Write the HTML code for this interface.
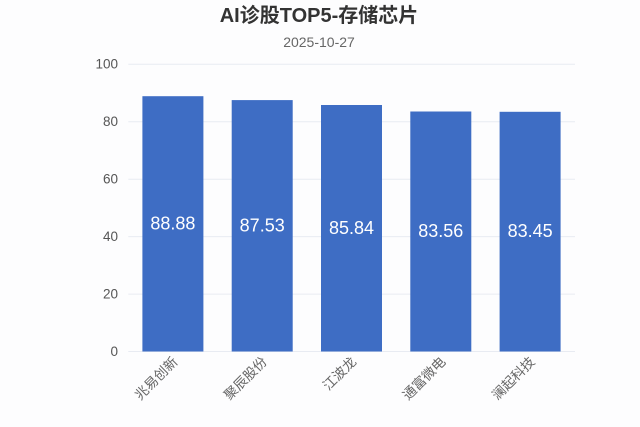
<!DOCTYPE html>
<html><head><meta charset="utf-8"><style>
html,body{margin:0;padding:0;background:#fdfdfe;}
svg{display:block;}
</style></head><body>
<svg width="640" height="427" viewBox="0 0 640 427" xmlns="http://www.w3.org/2000/svg">
<rect width="640" height="427" fill="#fdfdfe"/>
<text x="319" y="22" text-anchor="middle" font-family="Liberation Sans, Noto Sans CJK SC, sans-serif" font-size="20" font-weight="bold" fill="#333">AI诊股TOP5-存储芯片</text>
<text x="319" y="47" text-anchor="middle" font-family="Liberation Sans, Noto Sans CJK SC, sans-serif" font-size="14" fill="#666">2025-10-27</text>
<g stroke="#e8ebf2" stroke-width="1">
<line x1="128.3" y1="64.3" x2="575" y2="64.3"/>
<line x1="128.3" y1="121.7" x2="575" y2="121.7"/>
<line x1="128.3" y1="179.2" x2="575" y2="179.2"/>
<line x1="128.3" y1="236.6" x2="575" y2="236.6"/>
<line x1="128.3" y1="294.1" x2="575" y2="294.1"/>
<line x1="128.3" y1="351.5" x2="575" y2="351.5"/>
</g>
<g font-family="Liberation Sans, sans-serif" font-size="13.5" fill="#555" text-anchor="end" dominant-baseline="middle">
<text x="118" y="65">100</text>
<text x="118" y="122.5">80</text>
<text x="118" y="180">60</text>
<text x="118" y="237.5">40</text>
<text x="118" y="295">20</text>
<text x="118" y="352.5">0</text>
</g>
<g fill="#3e6dc4">
<rect x="142.4" y="96.2" width="61" height="255.3"/>
<rect x="231.7" y="100.1" width="61" height="251.4"/>
<rect x="321.0" y="105.0" width="61" height="246.5"/>
<rect x="410.3" y="111.5" width="61" height="240"/>
<rect x="499.6" y="111.8" width="61" height="239.7"/>
</g>
<g font-family="Liberation Sans, sans-serif" font-size="18" fill="#fff" text-anchor="middle" dominant-baseline="middle">
<text x="172.9" y="224.5">88.88</text>
<text x="262.2" y="226.5">87.53</text>
<text x="351.5" y="229">85.84</text>
<text x="440.8" y="232">83.56</text>
<text x="530.1" y="232">83.45</text>
</g>
<g font-family="Liberation Sans, Noto Sans CJK SC, sans-serif" font-size="13.5" fill="#666" text-anchor="end" dominant-baseline="middle">
<text x="176" y="360" transform="rotate(-45 176 360)">兆易创新</text>
<text x="265.3" y="360" transform="rotate(-45 265.3 360)">聚辰股份</text>
<text x="354.6" y="360" transform="rotate(-45 354.6 360)">江波龙</text>
<text x="443.9" y="360" transform="rotate(-45 443.9 360)">通富微电</text>
<text x="533.2" y="360" transform="rotate(-45 533.2 360)">澜起科技</text>
</g>
</svg>
</body></html>
